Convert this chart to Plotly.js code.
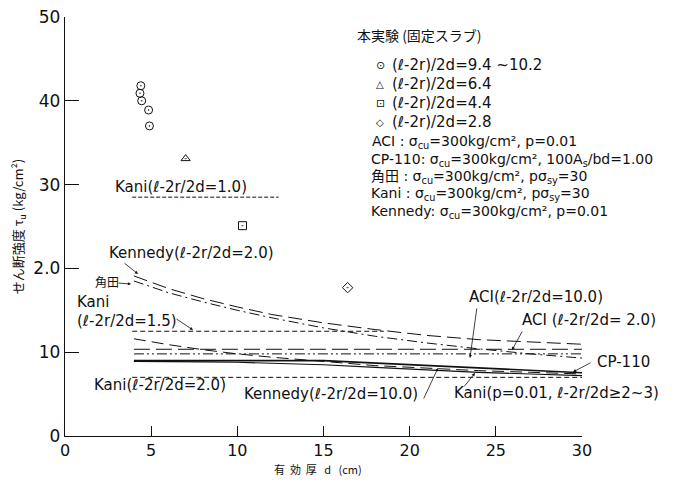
<!DOCTYPE html>
<html><head><meta charset="utf-8">
<script src="https://cdn.plot.ly/plotly-3.0.1.min.js"></script>
<style>html,body{margin:0;padding:0;background:#fff;}#chart{width:686px;height:491px;}</style>
</head><body><div id="chart"></div>
<script>
// ---- data ----
const tickVals = [0, 10, 20, 30, 40, 50];
const tickText = ["0", "10", "2.0", "30", "40", "50"];
const xTickVals = [0, 5, 10, 15, 20, 25, 30];

// experiments
const expA_d = [4.4, 4.35, 4.45, 4.85, 4.9];
const expA_v = [41.8, 40.9, 40.0, 38.9, 37.0];
const expB_d = [7.0];  const expB_v = [33.1];
const expC_d = [10.3]; const expC_v = [25.1];
const expD_d = [16.4]; const expD_v = [17.7];

// theory curves
const dCurve = [4, 6, 8, 10, 12, 15, 18, 21, 24, 27, 30];
const kennedy20 = [19.1, 17.6, 16.4, 15.4, 14.5, 13.5, 12.7, 12.0, 11.5, 11.2, 10.95];
const kadota    = [18.5, 17.1, 16.0, 15.0, 14.1, 12.9, 11.9, 11.1, 10.4, 9.8, 9.3];
const kennedy10 = [11.6, 10.9, 10.3, 9.8, 9.4, 8.9, 8.4, 8.1, 7.8, 7.6, 7.4];
const kaniP     = [8.9, 8.9, 8.85, 8.8, 8.7, 8.5, 8.2, 7.9, 7.6, 7.4, 7.2];
const cp110_d = [4, 15, 30];
const cp110_v = [9.0, 9.0, 7.55];
const aci10_d = [4, 30]; const aci10_v = [9.8, 9.8];
const aci20_d = [4, 30]; const aci20_v = [10.35, 10.35];
const kani10_d = [3.9, 12.4]; const kani10_v = [28.5, 28.5];
const kani15_d = [3.9, 18.5]; const kani15_v = [12.5, 12.5];
const kani20_d = [3.9, 30];   const kani20_v = [7.0, 7.0];

const FONT = "DejaVu Sans, Noto Sans CJK JP, sans-serif";
const JFONT = "Noto Sans CJK JP, DejaVu Sans, sans-serif";

function line(x, y, dash, w) {
  return {x: x, y: y, type: 'scatter', mode: 'lines', showlegend: false,
          line: {color: '#111', width: w || 1, dash: dash}, hoverinfo: 'skip'};
}
function pts(x, y, sym) {
  return {x: x, y: y, type: 'scatter', mode: 'markers', showlegend: false, cliponaxis: false,
          marker: {symbol: sym, size: 8, color: '#111', line: {color: '#111', width: 1}}};
}

const traces = [
  line(kani10_d, kani10_v, '4px,2px'),
  line(kani15_d, kani15_v, '5px,3px'),
  line(kani20_d, kani20_v, '5px,3px'),
  line(dCurve, kennedy20, '14px,6px'),
  line(dCurve, kadota, '10px,4px,2px,4px'),
  line(dCurve, kennedy10, '12px,6px'),
  line(dCurve, kaniP, 'solid', 1.2),
  line(cp110_d, cp110_v, 'solid', 1.6),
  line(aci10_d, aci10_v, '10px,3px,2px,3px,2px,3px'),
  line(aci20_d, aci20_v, '16px,6px'),
  pts(expA_d, expA_v, 'circle-open-dot'),
  pts(expB_d, expB_v, 'triangle-up-open-dot'),
  pts(expC_d, expC_v, 'square-open-dot'),
  pts(expD_d, expD_v, 'diamond-open-dot')
];

// pixel -> paper helpers (layout positioning only)
const PX0 = 65, PX1 = 582, PY0 = 436, PY1 = 17;
const px = v => (v - PX0) / (PX1 - PX0);
const py = v => (PY0 - v) / (PY0 - PY1);

function txt(text, x, y, size, fam, anchor) {
  return {text: text, xref: 'paper', yref: 'paper', x: px(x), y: py(y), xanchor: anchor || 'left', yanchor: 'middle',
          showarrow: false, font: {size: size || 16, color: '#111', family: fam || FONT}};
}
function arr(tx, ty, hx, hy) {
  return {text: '', xref: 'paper', yref: 'paper', x: px(hx), y: py(hy), ax: tx - hx, ay: ty - hy,
          showarrow: true, arrowhead: 2, arrowsize: 0.8, arrowwidth: 0.8, arrowcolor: '#111'};
}

const ann = [
  txt('Kani(ℓ-2r/2d=1.0)', 113, 187, 15),
  txt('Kennedy(ℓ-2r/2d=2.0)', 107, 253, 15),
  txt('角田', 93, 282, 12, JFONT),
  txt('Kani', 75, 302, 15),
  txt('(ℓ-2r/2d=1.5)', 75, 321, 15),
  txt('Kani(ℓ-2r/2d=2.0)', 92, 385, 15),
  txt('Kennedy(ℓ-2r/2d=10.0)', 242, 394, 15),
  txt('Kani(p=0.01, ℓ-2r/2d≥2~3)', 452, 393, 15),
  txt('ACI(ℓ-2r/2d=10.0)', 467, 297, 15),
  txt('ACI (ℓ-2r/2d= 2.0)', 520, 320, 15),
  txt('CP-110', 595, 362, 15),
  arr(123, 262, 138, 274),
  arr(117, 283, 131, 284),
  arr(175, 318, 193, 330),
  arr(423, 400, 438, 368),
  arr(463, 388, 475, 373),
  arr(477, 307, 470, 358),
  arr(523, 330, 512, 350),
  arr(592, 362, 573, 372),
  // legend block
  txt('本実験 (固定スラブ)', 355, 35, 14, JFONT),
  txt('⊙', 374, 65, 11),
  txt('△', 374, 84, 10),
  txt('⊡', 374, 103, 11),
  txt('◇', 374, 122, 10),
  txt('(ℓ-2r)/2d=9.4 ~10.2', 390, 65, 15),
  txt('(ℓ-2r)/2d=6.4', 390, 84, 15),
  txt('(ℓ-2r)/2d=4.4', 390, 103, 15),
  txt('(ℓ-2r)/2d=2.8', 390, 122, 15),
  txt('ACI : σ<sub>cu</sub>=300kg/cm², p=0.01', 370, 142, 14),
  txt('CP-110: σ<sub>cu</sub>=300kg/cm², 100A<sub>s</sub>/bd=1.00', 369, 160, 14),
  txt('角田 : σ<sub>cu</sub>=300kg/cm², pσ<sub>sy</sub>=30', 369, 177, 14),
  txt('Kani : σ<sub>cu</sub>=300kg/cm², pσ<sub>sy</sub>=30', 369, 194, 14),
  txt('Kennedy: σ<sub>cu</sub>=300kg/cm², p=0.01', 369, 212, 14),
  // x-axis title
  txt('有  効  厚   d   (cm)', 318, 469, 11, JFONT, 'center')
];

const layout = {
  width: 686, height: 491,
  paper_bgcolor: '#fff', plot_bgcolor: '#fff',
  margin: {l: PX0, r: 686 - PX1, t: PY1, b: 491 - PY0},
  font: {family: FONT, color: '#111'},
  xaxis: {range: [0, 30], tickvals: xTickVals, ticks: 'inside', ticklen: 10, tickcolor: '#111',
          showgrid: false, zeroline: false, showline: true, linecolor: '#111', linewidth: 1.2,
          tickfont: {size: 16, family: FONT}, fixedrange: true},
  yaxis: {range: [0, 50], tickvals: tickVals, ticktext: tickText, ticks: 'inside', ticklen: 14, tickcolor: '#111',
          showgrid: false, zeroline: false, showline: true, linecolor: '#111', linewidth: 1.2,
          tickfont: {size: 17, family: FONT}, fixedrange: true,
          title: {text: 'せん断強度 τ<sub>u</sub> (kg/cm²)', font: {size: 13, family: JFONT}, standoff: 6}},
  annotations: ann
};

Plotly.newPlot('chart', traces, layout, {staticPlot: true});
</script></body></html>
